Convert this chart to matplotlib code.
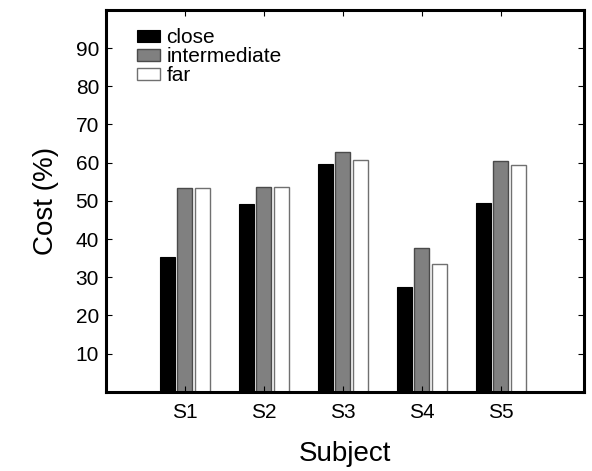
import matplotlib
matplotlib.use("Agg")
import matplotlib.pyplot as plt
import numpy as np

plt.rcParams['font.family'] = ['Liberation Sans', 'DejaVu Sans']

subjects = ["S1", "S2", "S3", "S4", "S5"]
close = [35.2, 49.1, 59.7, 27.4, 49.4]
intermediate = [53.3, 53.7, 62.8, 37.7, 60.5]
far = [53.5, 53.7, 60.8, 33.5, 59.3]
yticks = [10, 20, 30, 40, 50, 60, 70, 80, 90]

fig = plt.figure(figsize=(5.92, 4.71), dpi=100)
ax = fig.add_axes([0.179, 0.168, 0.807, 0.811])

x = np.arange(1, len(subjects) + 1)
w = 0.19
step = 0.22
ax.bar(x - step, close, w, color='black', edgecolor='black', linewidth=0.8, label='close')
ax.bar(x, intermediate, w, color='#808080', edgecolor='#4a4a4a', linewidth=1.0, label='intermediate')
ax.bar(x + step, far, w, color='white', edgecolor='#707070', linewidth=1.0, label='far')

ax.set_xlim(0, 6.05)
ax.set_ylim(0, 100)
ax.set_xticks(x)
ax.set_xticklabels(subjects)
ax.set_yticks(yticks)
ax.tick_params(direction='in', top=True, right=True, length=4, width=0.8,
               labelsize=15, pad=8)
ax.tick_params(axis='y', pad=5)
for s in ax.spines.values():
    s.set_linewidth(2.2)

ax.set_xlabel('Subject', fontsize=20, labelpad=14)
ax.set_ylabel('Cost (%)', fontsize=20, labelpad=12)

leg = ax.legend(loc='upper left', bbox_to_anchor=(0.035, 0.99), frameon=False,
                fontsize=15, labelspacing=0.0, handlelength=1.1, handleheight=0.5,
                handletextpad=0.3, borderaxespad=0.3)

fig.savefig('out.png', dpi=100)
